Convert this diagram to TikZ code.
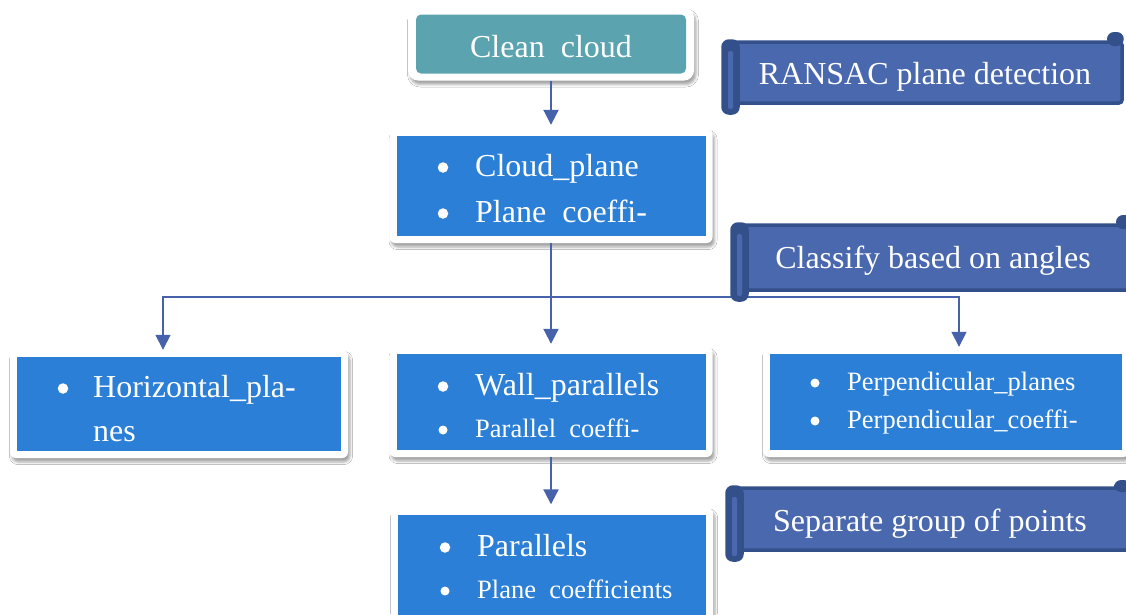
\documentclass[tikz,border=0pt]{standalone}
\usepackage{fontspec}
\setmainfont{Liberation Serif}
\usetikzlibrary{arrows.meta,shadows.blur}

\definecolor{boxblue}{HTML}{2B7FD7}
\definecolor{cloudteal}{HTML}{5BA4AF}
\definecolor{scrollfill}{HTML}{4A68AE}
\definecolor{scrolledge}{HTML}{34508A}
\definecolor{linkblue}{HTML}{4562AB}

\newcommand\fsbig{\fontsize{32}{38}\selectfont}
\newcommand\fssmall{\fontsize{26.5}{31}\selectfont}

\tikzset{
  panel/.style={fill=white, rounded corners=6pt, inner sep=0pt,
    blur shadow={shadow xshift=2pt, shadow yshift=-4pt,
      shadow blur radius=2.5pt, shadow opacity=35}},
  bluepanel/.style={panel, path picture={
    \fill[boxblue, sharp corners]
      ([shift={(7pt,-7pt)}]path picture bounding box.north west)
      rectangle ([shift={(-7pt,7pt)}]path picture bounding box.south east);}},
  tealpanel/.style={panel, rounded corners=10pt, path picture={
    \fill[cloudteal, rounded corners=5pt]
      ([shift={(8pt,-7pt)}]path picture bounding box.north west)
      rectangle ([shift={(-8pt,7pt)}]path picture bounding box.south east);}},
  itemtext/.style={text=white, inner sep=0pt, anchor=base west},
  centretext/.style={text=white, inner sep=0pt, anchor=base},
  dot/.style={circle, fill=white, inner sep=0pt, minimum size=10.5pt},
  smalldot/.style={dot, minimum size=9pt},
  bantext/.style={text=white, inner sep=0pt, anchor=base, font=\fsbig},
  link/.style={draw=linkblue, line width=2pt,
    -{Triangle[width=15pt,length=15pt]}},
  scroll/.style={draw=scrolledge, line width=3.5pt, fill=scrollfill,
    rounded corners=3pt},
}

% horizontal scroll: left x of roll, body top, body bottom, right x, top of right curl
\newcommand\scrollshape[5]{%
  \draw[scroll] (#1+6,#2) rectangle (#4,#3);
  \fill[scrolledge, rounded corners=7pt] (#4-15,#5) rectangle (#4+1.75,#2+4);
  \draw[scroll, fill=scrolledge, rounded corners=6pt] (#1,#2-1) rectangle (#1+15,#3+10);
  \fill[scrollfill, rounded corners=2pt] (#1+5,#2+9) rectangle (#1+10,#3+6);
}

\begin{document}
\begin{tikzpicture}[x=1pt, y=-1pt]
  \fill[white] (0,0) rectangle (1126,614);
  \clip (0,0) rectangle (1126,614);

  % panels
  \node[tealpanel, minimum width=286pt, minimum height=73pt] (cc) at (551,44) {};
  \node[bluepanel, minimum width=323pt, minimum height=114pt] (cp) at (551,186) {};
  \node[bluepanel, minimum width=338pt, minimum height=108pt] (hz) at (179,404) {};
  \node[bluepanel, minimum width=323pt, minimum height=110pt] (wp) at (551,402) {};
  \node[bluepanel, minimum width=366pt, minimum height=110pt] (pp) at (946,402) {};
  \node[bluepanel, minimum width=322pt, minimum height=117pt] (pl) at (552,566) {};

  % panel texts
  \node[centretext, font=\fsbig] (cc-t) at (551,57) {Clean\ \ cloud};

  \node[dot] (cp-b1) at (443,167.5) {};
  \node[itemtext, font=\fsbig] (cp-t1) at (475,176) {Cloud\_plane};
  \node[dot] (cp-b2) at (443,213.5) {};
  \node[itemtext, font=\fsbig] (cp-t2) at (475,222) {Plane\ \ coeffi-};

  \node[dot] (hz-b1) at (63,388.5) {};
  \node[itemtext, font=\fsbig] (hz-t1) at (93,397) {Horizontal\_pla-};
  \node[itemtext, font=\fsbig] (hz-t2) at (93,441) {nes};

  \node[dot] (wp-b1) at (443,386.5) {};
  \node[itemtext, font=\fsbig] (wp-t1) at (475,395) {Wall\_parallels};
  \node[smalldot] (wp-b2) at (443,430) {};
  \node[itemtext, font=\fssmall] (wp-t2) at (475,437) {Parallel\ \ coeffi-};

  \node[smalldot] (pp-b1) at (815,383) {};
  \node[itemtext, font=\fssmall] (pp-t1) at (847,390) {Perpendicular\_planes};
  \node[smalldot] (pp-b2) at (815,421) {};
  \node[itemtext, font=\fssmall] (pp-t2) at (847,428) {Perpendicular\_coeffi-};

  \node[dot] (pl-b1) at (445,547.5) {};
  \node[itemtext, font=\fsbig] (pl-t1) at (477,556) {Parallels};
  \node[smalldot] (pl-b2) at (445,591) {};
  \node[itemtext, font=\fssmall] (pl-t2) at (477,598) {Plane\ \ coefficients};

  % connectors
  \coordinate (split) at (551,297);
  \draw[link, shorten >=4pt] (cc.south) -- (cc.south |- cp.north);
  \draw[link, shorten >=3pt] (cp.south) -- (cp.south |- wp.north);
  \draw[link, line width=1.6pt] (split) -| ([xshift=-16pt]hz.north);
  \draw[link, line width=1.6pt] (split) -| ([xshift=13pt]pp.north);
  \draw[link, shorten >=3pt] (wp.south) -- (wp.south |- pl.north);

  % scroll banners
  \scrollshape{723}{42}{103}{1122}{32}
  \node[bantext] (ransac) at (925,84) {RANSAC plane detection};

  \scrollshape{732}{225}{290}{1131}{215}
  \node[bantext] (classify) at (933,268) {Classify based on angles};

  \scrollshape{727}{488}{550}{1129}{480}
  \node[bantext] (separate) at (930,531) {Separate group of points};
\end{tikzpicture}
\end{document}
